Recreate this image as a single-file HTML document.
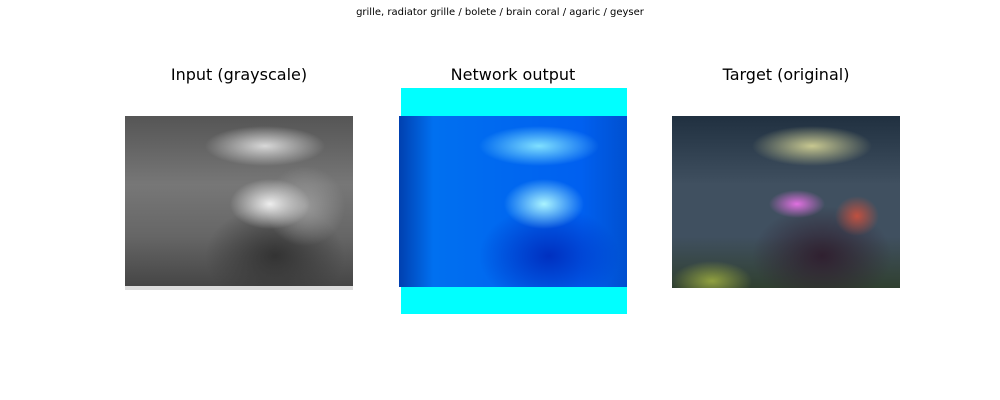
<!DOCTYPE html>
<html><head><style>
body{margin:0;width:1000px;height:400px;background:#fff;position:relative;overflow:hidden;font-family:"DejaVu Sans","Liberation Sans",sans-serif}
.t{position:absolute;font-size:16px;color:#000;text-align:center;width:300px}
.img{position:absolute}
</style></head><body>
<div style="position:absolute;top:7px;left:0;width:1000px;text-align:center;font-size:10px">grille, radiator grille / bolete / brain coral / agaric / geyser</div>
<div class="t" style="left:89px;top:65px">Input (grayscale)</div>
<div class="t" style="left:363px;top:65px">Network output</div>
<div class="t" style="left:636px;top:65px">Target (original)</div>

<div class="img" style="left:125px;top:116px;width:228px;height:172px;background:
radial-gradient(ellipse 40px 25px at 145px 88px,#eee,transparent),
radial-gradient(ellipse 60px 20px at 140px 30px,#d8d8d8,transparent),
radial-gradient(ellipse 40px 40px at 180px 90px,#999,transparent),
radial-gradient(ellipse 70px 50px at 150px 140px,#333,transparent),
linear-gradient(#555 0%,#777 40%,#666 70%,#444 100%)"></div>
<div class="img" style="left:125px;top:286px;width:228px;height:4px;background:#ddd"></div>

<div class="img" style="left:401px;top:88px;width:226px;height:226px;background:#00ffff"></div>
<div class="img" style="left:399px;top:116px;width:228px;height:171px;background:
radial-gradient(ellipse 40px 25px at 145px 88px,#aaf4ff,transparent),
radial-gradient(ellipse 60px 20px at 140px 30px,#7fe0ff,transparent),
radial-gradient(ellipse 70px 50px at 150px 140px,#0030c0,transparent),
linear-gradient(90deg,#0040b0 0%,#0070f0 15%,#0060f0 80%,#0050d0 100%)"></div>

<div class="img" style="left:672px;top:116px;width:228px;height:172px;background:
radial-gradient(ellipse 28px 14px at 125px 88px,#e070e0,transparent),
radial-gradient(ellipse 60px 20px at 140px 30px,#c8c890,transparent),
radial-gradient(ellipse 22px 20px at 185px 100px,#c05040,transparent),
radial-gradient(ellipse 70px 50px at 150px 140px,#302030,transparent),
radial-gradient(ellipse 40px 20px at 40px 165px,#90a040,transparent),
linear-gradient(#203040 0%,#405060 40%,#405060 70%,#304030 100%)"></div>
</body></html>
